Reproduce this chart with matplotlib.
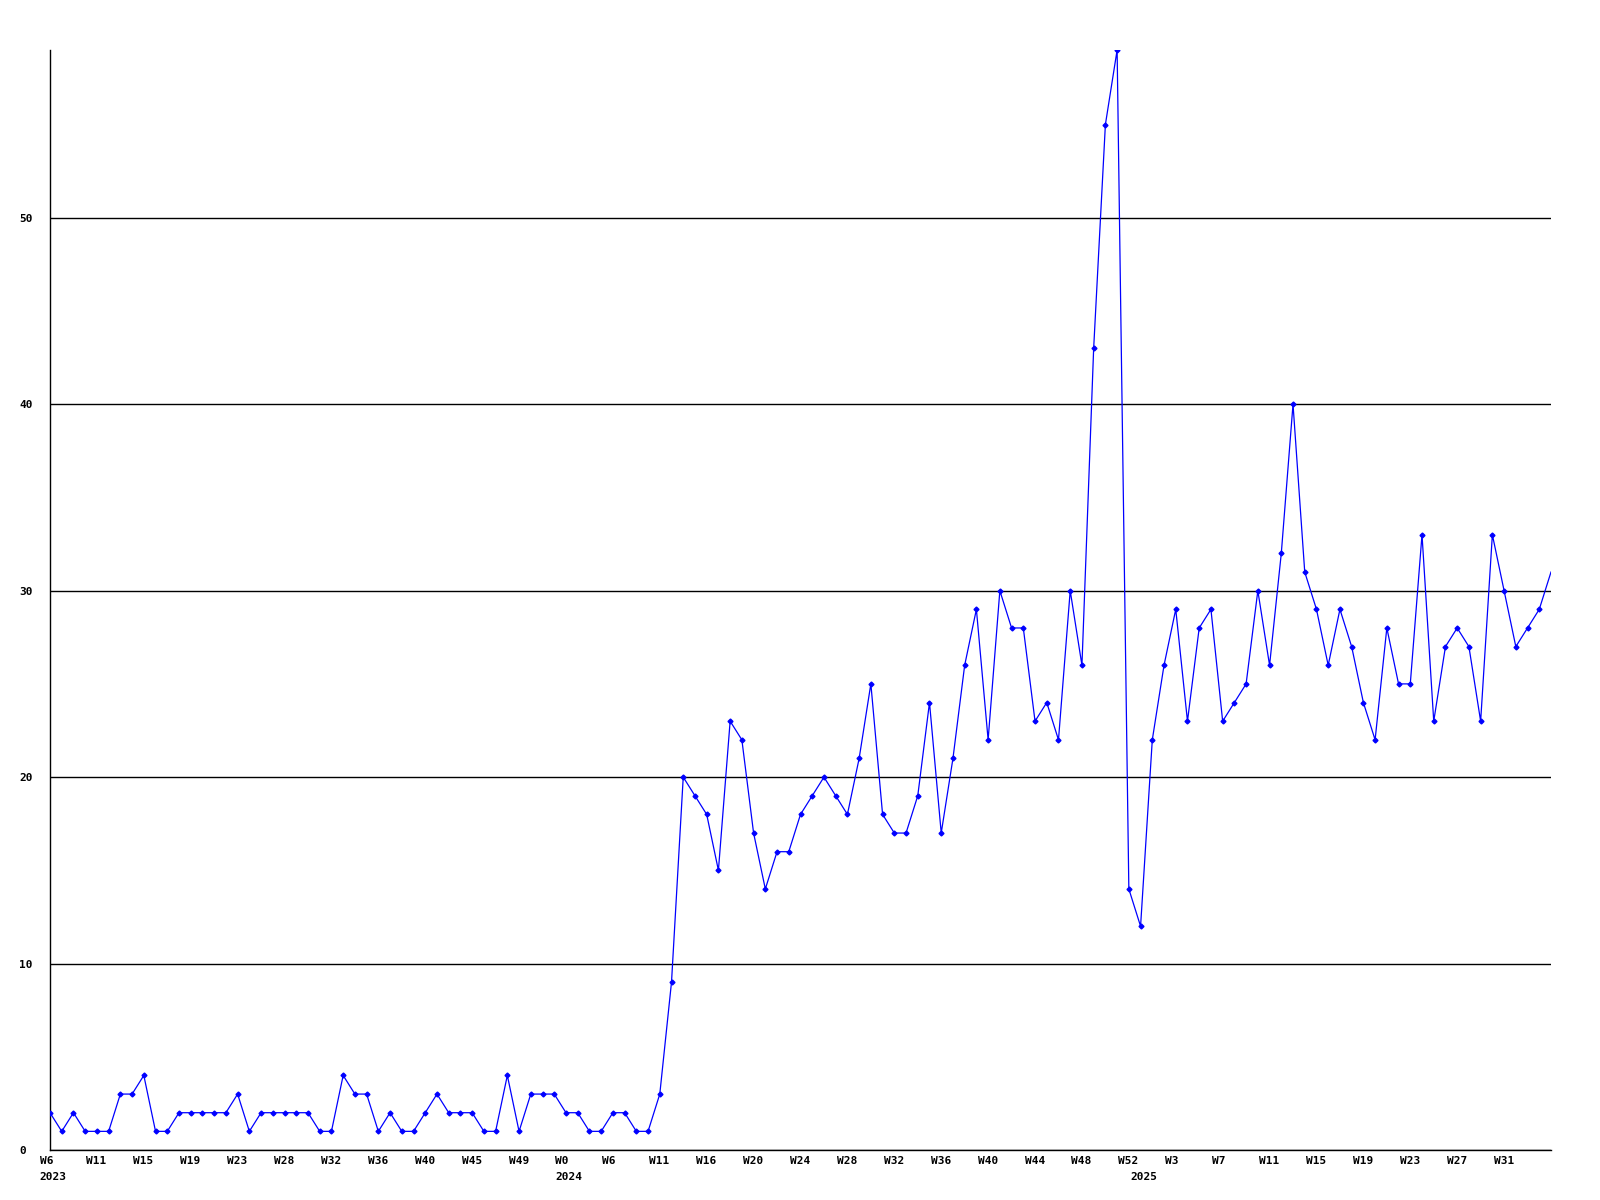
import matplotlib
matplotlib.use("Agg")
import matplotlib.pyplot as plt
from matplotlib.transforms import offset_copy

# one value per point, 4 points per month label
values = [
    2, 1, 2, 1, 1, 1, 3, 3, 4, 1, 1, 2, 2, 2, 2, 2, 3, 1, 2, 2,
    2, 2, 2, 1, 1, 4, 3, 3, 1, 2, 1, 1, 2, 3, 2, 2, 2, 1, 1, 4,
    1, 3, 3, 3, 2, 2, 1, 1, 2, 2, 1, 1, 3, 9, 20, 19, 18, 15, 23, 22,
    17, 14, 16, 16, 18, 19, 20, 19, 18, 21, 25, 18, 17, 17, 19, 24, 17, 21, 26, 29,
    22, 30, 28, 28, 23, 24, 22, 30, 26, 43, 55, 59, 14, 12, 22, 26, 29, 23, 28, 29,
    23, 24, 25, 30, 26, 32, 40, 31, 29, 26, 29, 27, 24, 22, 28, 25, 25, 33, 23, 27,
    28, 27, 23, 33, 30, 27, 28, 29, 31,
]

week_labels = ["W6", "W11", "W15", "W19", "W23", "W28", "W32", "W36", "W40", "W45", "W49",
               "W0", "W6", "W11", "W16", "W20", "W24", "W28", "W32", "W36", "W40", "W44", "W48", "W52",
               "W3", "W7", "W11", "W15", "W19", "W23", "W27", "W31"]
week_pos = [i * 4 for i in range(len(week_labels))]

years = ["2023", "2024", "2025"]
year_pos = [0, 44, 93]

y_ticks = [0, 10, 20, 30, 40, 50]

fig = plt.figure(figsize=(16, 12), dpi=100)
ax = fig.add_axes([50 / 1600, 50 / 1200, 1501 / 1600, 1100 / 1200])

x = list(range(len(values)))
ax.plot(x, values, color="#0000ff", lw=0.9, marker="D", markersize=2.5,
        markevery=slice(0, len(values) - 1), zorder=3)

ax.set_xlim(0, len(values) - 1)
ax.set_ylim(0, 59)

ax.spines["top"].set_visible(False)
ax.spines["right"].set_visible(False)
ax.spines["left"].set_color("black")
ax.spines["bottom"].set_color("black")
ax.spines["left"].set_linewidth(1.0)
ax.spines["bottom"].set_linewidth(1.0)

ax.set_yticks(y_ticks)
ax.yaxis.grid(True, color="black", lw=1.0)
ax.set_axisbelow(True)

tick_font = {"family": "DejaVu Sans Mono", "weight": "bold", "size": 8}

ax.tick_params(axis="y", length=0, pad=22)
for lab in ax.get_yticklabels():
    lab.set_horizontalalignment("left")
    lab.set_fontproperties(tick_font)

ax.set_xticks(week_pos)
ax.set_xticklabels([])
ax.tick_params(axis="x", length=0)

xt = offset_copy(ax.get_xaxis_transform(), fig=fig, x=-10.5, y=-11, units="dots")
for p, lab in zip(week_pos, week_labels):
    ax.text(p, 0, lab, transform=xt, ha="left", va="center", **tick_font)

yt = offset_copy(ax.get_xaxis_transform(), fig=fig, x=-10.5, y=-27, units="dots")
for p, lab in zip(year_pos, years):
    ax.text(p, 0, lab, transform=yt, ha="left", va="center", **tick_font)

fig.savefig("out.png", dpi=100, facecolor="white")
